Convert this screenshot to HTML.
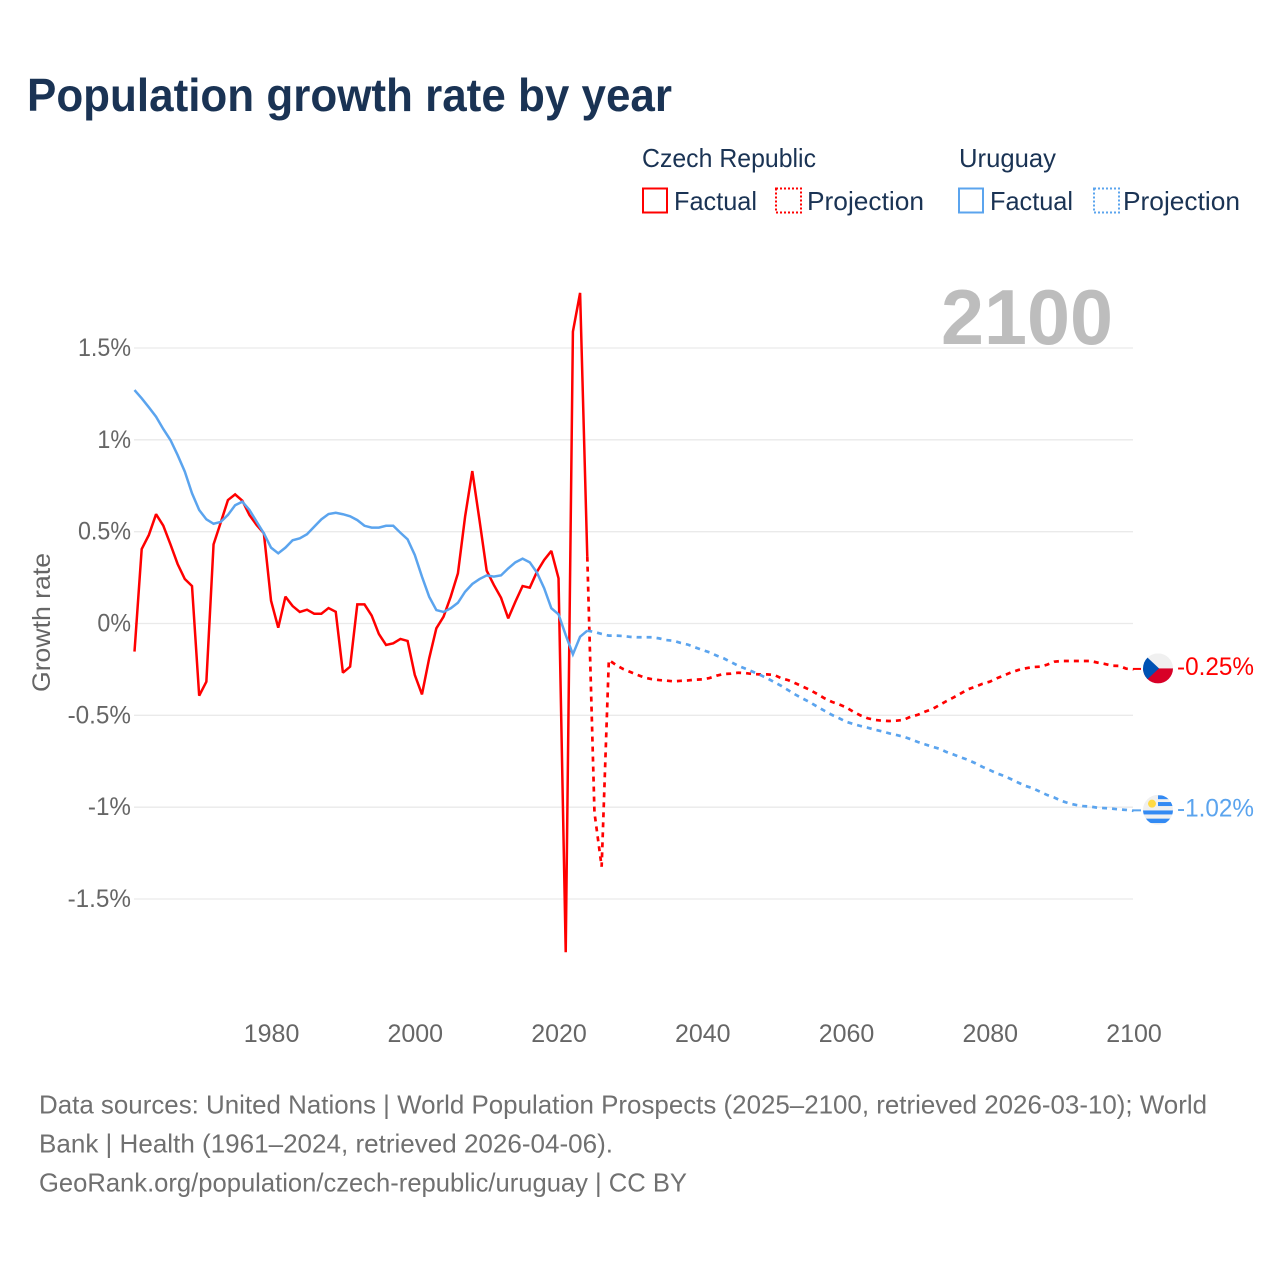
<!DOCTYPE html>
<html lang="en">
<head>
<meta charset="utf-8">
<title>Population growth rate by year</title>
<style>
  html, body { margin: 0; padding: 0; background: #fff; }
  svg { display: block; font-family: "Liberation Sans", sans-serif; }
</style>
</head>
<body>
<svg id="chart" xmlns="http://www.w3.org/2000/svg" width="1280" height="1280" viewBox="0 0 1280 1280">
  <rect width="1280" height="1280" fill="#ffffff"/>
  <text x="27" y="111" font-size="46" font-weight="700" fill="#1a3354" textLength="645" lengthAdjust="spacingAndGlyphs">Population growth rate by year</text>

  <g font-size="26" fill="#1a3354">
    <text x="642" y="167" textLength="174" lengthAdjust="spacingAndGlyphs">Czech Republic</text>
    <text x="959" y="167" textLength="97" lengthAdjust="spacingAndGlyphs">Uruguay</text>
    <rect x="643" y="188.5" width="24" height="24" fill="none" stroke="#ff0000" stroke-width="2"/>
    <text x="674" y="210" textLength="83" lengthAdjust="spacingAndGlyphs">Factual</text>
    <rect x="776" y="188.5" width="25" height="24" fill="none" stroke="#ff0000" stroke-width="2" stroke-dasharray="2 2"/>
    <text x="807" y="210" textLength="117" lengthAdjust="spacingAndGlyphs">Projection</text>
    <rect x="959" y="188.5" width="24" height="24" fill="none" stroke="#5ba4ee" stroke-width="2"/>
    <text x="990" y="210" textLength="83" lengthAdjust="spacingAndGlyphs">Factual</text>
    <rect x="1094" y="188.5" width="25" height="24" fill="none" stroke="#5ba4ee" stroke-width="2" stroke-dasharray="2 2"/>
    <text x="1123" y="210" textLength="117" lengthAdjust="spacingAndGlyphs">Projection</text>
  </g>

  <g id="grid"></g>
  <g id="yticks"></g>
  <g id="xticks"></g>
  <text transform="translate(50,692) rotate(-90)" font-size="25" fill="#666666" textLength="139" lengthAdjust="spacingAndGlyphs">Growth rate</text>
  <text x="941" y="344" font-size="78" font-weight="700" fill="#bdbdbd" textLength="172" lengthAdjust="spacingAndGlyphs">2100</text>
  <g id="series"></g>
  <defs>
    <clipPath id="flag-clip"><circle cx="0" cy="0" r="15"/></clipPath>
  </defs>
  <g id="ends"></g>

  <g font-size="26" fill="#707070">
    <text x="39" y="1113.5" textLength="1168" lengthAdjust="spacingAndGlyphs">Data sources: United Nations | World Population Prospects (2025–2100, retrieved 2026-03-10); World</text>
    <text x="39" y="1152.5" textLength="574" lengthAdjust="spacingAndGlyphs">Bank | Health (1961–2024, retrieved 2026-04-06).</text>
    <text x="39" y="1191.5" textLength="648" lengthAdjust="spacingAndGlyphs">GeoRank.org/population/czech-republic/uruguay | CC BY</text>
  </g>
</svg>
<script>
const yTickValues = [1.5, 1, 0.5, 0, -0.5, -1, -1.5];
const yTickLabels = ["1.5%", "1%", "0.5%", "0%", "-0.5%", "-1%", "-1.5%"];
const xTickValues = [1980, 2000, 2020, 2040, 2060, 2080, 2100];
const xTickLabels = ["1980", "2000", "2020", "2040", "2060", "2080", "2100"];
const factualStartYear = 1961;
const projectionStartYear = 2024;
const czechFactual = [-0.153,0.405,0.482,0.595,0.533,0.431,0.324,0.242,0.204,-0.393,-0.317,0.431,0.55,0.672,0.703,0.669,0.59,0.536,0.491,0.124,-0.023,0.146,0.095,0.063,0.075,0.053,0.053,0.084,0.064,-0.268,-0.235,0.104,0.104,0.043,-0.057,-0.117,-0.108,-0.084,-0.095,-0.28,-0.386,-0.19,-0.026,0.037,0.146,0.273,0.582,0.83,0.563,0.288,0.21,0.14,0.028,0.119,0.204,0.195,0.282,0.346,0.395,0.246,-1.79,1.589,1.8,0.364];
const czechProjection = [0.364,-1.03,-1.324,-0.199,-0.226,-0.248,-0.264,-0.28,-0.295,-0.303,-0.308,-0.311,-0.315,-0.312,-0.31,-0.306,-0.304,-0.297,-0.284,-0.275,-0.273,-0.268,-0.27,-0.275,-0.277,-0.277,-0.28,-0.298,-0.309,-0.326,-0.344,-0.362,-0.384,-0.407,-0.426,-0.44,-0.456,-0.48,-0.5,-0.516,-0.525,-0.529,-0.531,-0.529,-0.525,-0.507,-0.497,-0.48,-0.466,-0.444,-0.422,-0.402,-0.38,-0.358,-0.344,-0.328,-0.317,-0.298,-0.282,-0.266,-0.253,-0.244,-0.237,-0.235,-0.224,-0.208,-0.204,-0.204,-0.204,-0.204,-0.204,-0.213,-0.22,-0.23,-0.231,-0.246,-0.25];
const uruguayFactual = [1.271,1.226,1.177,1.126,1.059,0.999,0.917,0.827,0.709,0.618,0.567,0.543,0.553,0.591,0.644,0.663,0.618,0.554,0.491,0.413,0.382,0.413,0.453,0.464,0.486,0.527,0.567,0.596,0.603,0.595,0.584,0.563,0.532,0.522,0.522,0.532,0.532,0.494,0.458,0.373,0.255,0.146,0.073,0.063,0.083,0.113,0.173,0.215,0.242,0.262,0.255,0.262,0.3,0.333,0.353,0.333,0.277,0.192,0.083,0.05,-0.063,-0.168,-0.072,-0.039];
const uruguayProjection = [-0.039,-0.046,-0.057,-0.066,-0.066,-0.068,-0.073,-0.075,-0.075,-0.075,-0.081,-0.09,-0.094,-0.106,-0.115,-0.13,-0.144,-0.157,-0.175,-0.19,-0.21,-0.23,-0.246,-0.262,-0.279,-0.298,-0.319,-0.34,-0.364,-0.388,-0.409,-0.429,-0.453,-0.475,-0.497,-0.515,-0.535,-0.547,-0.558,-0.567,-0.578,-0.587,-0.598,-0.607,-0.616,-0.63,-0.645,-0.658,-0.671,-0.682,-0.7,-0.714,-0.729,-0.743,-0.761,-0.781,-0.798,-0.816,-0.83,-0.848,-0.867,-0.885,-0.897,-0.916,-0.934,-0.948,-0.966,-0.979,-0.988,-0.994,-0.997,-1.003,-1.005,-1.008,-1.012,-1.015,-1.02];
const endLabels = ["-0.25%", "-1.02%"];

const NS = "http://www.w3.org/2000/svg";
const RED = "#ff0000";
const BLUE = "#5ba4ee";
function xScale(year) { return 134.5 + (year - 1961) * 7.187; }
function yScale(v) { return 623.5 - v * 183.67; }
function mk(tag, parent, attrs) {
  const el = document.createElementNS(NS, tag);
  for (const k in attrs) el.setAttribute(k, attrs[k]);
  parent.appendChild(el);
  return el;
}
function squeeze(el, k) {
  const w = el.getComputedTextLength();
  el.setAttribute("textLength", (w * k).toFixed(1));
  el.setAttribute("lengthAdjust", "spacingAndGlyphs");
}

const grid = document.getElementById("grid");
const yticks = document.getElementById("yticks");
yTickValues.forEach(function (v, i) {
  const line = mk("line", grid, { x1: 134, x2: 1133, y1: yScale(v), y2: yScale(v), stroke: "#eaeaea", "stroke-width": 1.3 });
  
  
  const t = mk("text", yticks, { x: 131, y: yScale(v) + 8, "text-anchor": "end", "font-size": 25, fill: "#666666" });
  
  
  t.textContent = yTickLabels[i];
  squeeze(t, v < 0 ? 0.97 : 0.93);
});

const xticks = document.getElementById("xticks");
xTickValues.forEach(function (yr, i) {
  const t = mk("text", xticks, { x: xScale(yr) + 0.5, y: 1042, "text-anchor": "middle", "font-size": 25, fill: "#666666" });
  
  
  t.textContent = xTickLabels[i];
  squeeze(t, 1.0);
});

function pathOf(values, startYear) {
  return values.map(function (v, i) {
    return (i ? "L" : "M") + xScale(startYear + i).toFixed(2) + " " + yScale(v).toFixed(2);
  }).join(" ");
}
const series = document.getElementById("series");
const czechFactualLine = mk("path", series, { d: pathOf(czechFactual, factualStartYear), fill: "none", stroke: RED, "stroke-width": 2.5, "stroke-linejoin": "miter", "stroke-miterlimit": 2 });


const czechProjectionLine = mk("path", series, { d: pathOf(czechProjection, projectionStartYear), fill: "none", stroke: RED, "stroke-width": 2.7, "stroke-dasharray": "5 5" });


const uruguayFactualLine = mk("path", series, { d: pathOf(uruguayFactual, factualStartYear), fill: "none", stroke: BLUE, "stroke-width": 2.5 });


const uruguayProjectionLine = mk("path", series, { d: pathOf(uruguayProjection, projectionStartYear), fill: "none", stroke: BLUE, "stroke-width": 2.7, "stroke-dasharray": "5 5" });



const ends = document.getElementById("ends");
function endMarker(last, color, label, nameLabel, nameFlag, nameConn, drawFlag) {
  const y = yScale(last);
  const conn = mk("line", ends, { x1: 1133, x2: 1141, y1: y - 0.5, y2: y - 0.5, stroke: color, "stroke-width": 2 });
  
  
  const g = mk("g", ends, { transform: "translate(1158," + (y - 1) + ")" });
  
  
  const inner = mk("g", g, { "clip-path": "url(#flag-clip)" });
  drawFlag(inner);
  const t = mk("text", ends, { x: 1177, y: y + 5.5, "font-size": 25, fill: color });
  
  
  t.textContent = label;
  t.setAttribute("textLength", "77");
  t.setAttribute("lengthAdjust", "spacingAndGlyphs");
}
endMarker(czechProjection[czechProjection.length - 1], RED, endLabels[0], "czech-end-label", "czech-flag", "czech-end-connector", function (f) {
  mk("rect", f, { x: -15, y: -15, width: 30, height: 30, fill: "#f0f0f0" });
  mk("rect", f, { x: -15, y: 0, width: 30, height: 15, fill: "#d80027" });
  mk("polygon", f, { points: "-15,-15 1,0 -15,15", fill: "#0052b4" });
});
endMarker(uruguayProjection[uruguayProjection.length - 1], BLUE, endLabels[1], "uruguay-end-label", "uruguay-flag", "uruguay-end-connector", function (f) {
  mk("rect", f, { x: -15, y: -15, width: 30, height: 30, fill: "#f0f0f0" });
  mk("rect", f, { x: 0, y: -14.5, width: 15, height: 3.8, fill: "#338af3" });
  mk("rect", f, { x: 0, y: -7.8, width: 15, height: 4, fill: "#338af3" });
  mk("rect", f, { x: -15, y: 0.6, width: 30, height: 4, fill: "#338af3" });
  mk("rect", f, { x: -15, y: 8.8, width: 30, height: 4.4, fill: "#338af3" });
  mk("circle", f, { cx: -6, cy: -6.2, r: 4, fill: "#ffda44" });
});
</script>
</body>
</html>
